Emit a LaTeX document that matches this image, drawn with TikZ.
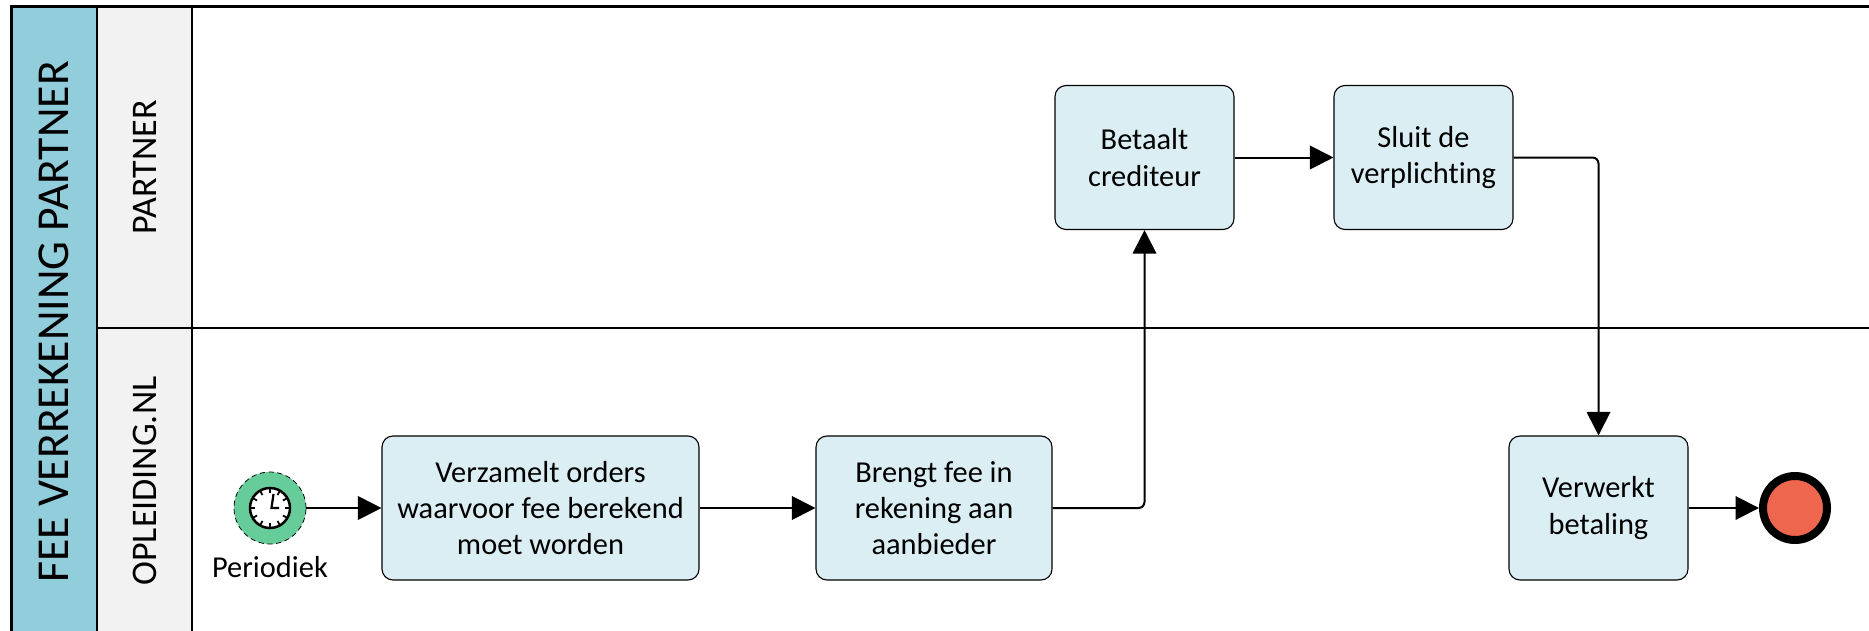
\documentclass[tikz,border=0pt]{standalone}
\usepackage{fontspec}
\setmainfont[Ligatures=NoCommon]{Carlito}
\usepackage{tikz}
\usetikzlibrary{arrows.meta}

\definecolor{headblue}{HTML}{92CDDC}
\definecolor{lanegrey}{HTML}{F2F2F2}
\definecolor{taskblue}{HTML}{DAEEF3}
\definecolor{startgreen}{HTML}{66CC99}
\definecolor{endred}{HTML}{EE664D}

\tikzset{
  lanebox/.style={rectangle,draw,line width=0.042cm,inner sep=0pt},
  lanehead/.style={lanebox,fill=headblue,rotate=90,font=\fontsize{26}{30}\selectfont},
  lanename/.style={lanebox,fill=lanegrey,rotate=90,font=\fontsize{20.5}{24}\selectfont},
  task/.style={rectangle,rounded corners=0.22cm,draw,line width=0.022cm,fill=taskblue,inner sep=0pt,
    minimum height=2.88cm,align=center,font=\fontsize{17.3}{20.6}\selectfont},
  flow/.style={line width=0.04cm,-{Triangle[length=0.47cm,width=0.47cm]},rounded corners=0.12cm},
}

\begin{document}
\begin{tikzpicture}
  \useasboundingbox (0,0) rectangle (37.38,12.6);
  \clip (0,0) rectangle (37.38,12.6);

  % Pool and lanes
  \node[lanebox] (partnerlane) at (20.72,9.255) [minimum width=33.76cm,minimum height=6.43cm] {};
  \node[lanebox] (opleidinglane) at (20.72,2.98) [minimum width=33.76cm,minimum height=6.12cm] {};
  \node[lanehead,minimum width=12.62cm,minimum height=1.71cm] (pool) at (1.085,6.16) {FEE VERREKENING PARTNER};
  \node[lanename,minimum width=6.43cm,minimum height=1.9cm] (partner) at (2.89,9.255) {PARTNER};
  \node[lanename,minimum width=6.12cm,minimum height=1.9cm] (opleiding) at (2.89,2.98) {OPLEIDING.NL};

  % Start event
  \node[circle,draw,densely dashed,line width=0.015cm,fill=startgreen,minimum size=1.44cm,inner sep=0pt] (start) at (5.4,2.44) {};
  \node[circle,draw,line width=0.05cm,fill=white,minimum size=0.8cm,inner sep=0pt] (clock) at (5.4,2.44) {};
  \foreach \a in {0,30,...,330}
    \draw[line width=0.035cm] ([shift={(\a:0.4)}]clock.center) -- ([shift={(\a:0.3)}]clock.center);
  \draw[line width=0.045cm] (5.47,2.72) -- (5.43,2.44) -- (5.58,2.44); % clock hands
  \node[font=\fontsize{17.3}{20.6}\selectfont] (periodiek) at (5.4,1.26) {Periodiek};

  % Tasks
  \node[task,minimum width=6.34cm] (verzamelt) at (10.81,2.44) {Verzamelt orders\\waarvoor fee berekend\\moet worden};
  \node[task,minimum width=4.72cm] (brengt) at (18.68,2.44) {Brengt fee in\\rekening aan\\aanbieder};
  \node[task,minimum width=3.58cm] (betaalt) at (22.89,9.45) {Betaalt\\crediteur};
  \node[task,minimum width=3.58cm] (sluit) at (28.47,9.45) {Sluit de\\verplichting};
  \node[task,minimum width=3.58cm] (verwerkt) at (31.97,2.44) {Verwerkt\\betaling};

  % End event
  \node[circle,draw,line width=0.16cm,fill=endred,minimum size=1.28cm,inner sep=0pt] (end) at (35.9,2.44) {};

  \draw[flow] (start) to (verzamelt);
  \draw[flow] (verzamelt) to (brengt);
  \draw[flow] (brengt) -| (betaalt);
  \draw[flow] (betaalt) to (sluit);
  \draw[flow] (sluit) -| (verwerkt);
  \draw[flow] (verwerkt) to (end);
\end{tikzpicture}
\end{document}
